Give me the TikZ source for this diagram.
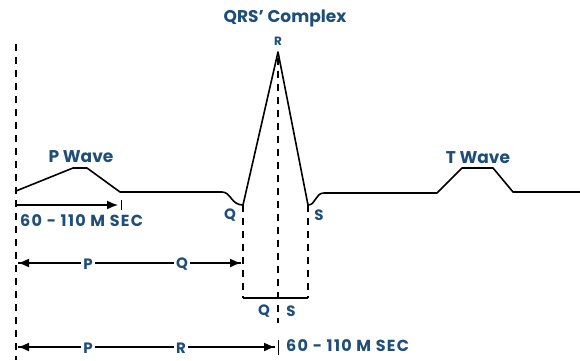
\documentclass[tikz,border=0pt]{standalone}
\usepackage{fontspec}
\setmainfont{Poppins}
\usetikzlibrary{arrows.meta}
\definecolor{lbl}{HTML}{1F4E79}
\tikzset{
  lab/.style={text=lbl,font=\fontsize{15}{17}\selectfont\bfseries,inner sep=1pt},
  dur/.style={text=lbl,font=\fontsize{16}{18}\selectfont\bfseries\addfontfeature{LetterSpace=8},inner sep=1pt},
  big/.style={text=lbl,font=\fontsize{17}{19}\selectfont\bfseries,inner sep=1pt},
  slab/.style={text=lbl,font=\fontsize{12}{13}\selectfont\bfseries,inner sep=1pt},
  wave/.style={line width=1.6pt,black,line join=round},
  guide/.style={line width=1.6pt,black,dash pattern=on 7pt off 6pt},
  dim/.style={line width=1.5pt,black},
  arr/.style={-{Latex[length=11pt,width=9pt]}},
  gap/.style={fill=white,text=lbl,font=\fontsize{15}{17}\selectfont\bfseries,inner sep=2pt}
}
\begin{document}
\begin{tikzpicture}[x=1pt,y=-1pt]
\useasboundingbox[fill=white] (0,0) rectangle (580,360);
% key points
\coordinate (start) at (16,191);
\coordinate (ptop1) at (73,168);
\coordinate (ptop2) at (87,168);
\coordinate (pend) at (120,192);
\coordinate (qstart) at (222,192);
\coordinate (q) at (243,205);
\coordinate (r) at (278,52);
\coordinate (s) at (308,205);
\coordinate (send) at (324,193);
\coordinate (tstart) at (437,193);
\coordinate (ttop1) at (462,168);
\coordinate (ttop2) at (493,168);
\coordinate (tend) at (513,192);
\coordinate (fin) at (580,192);
% ECG trace
\draw[wave] (start) -- (ptop1) -- (ptop2) -- (pend) -- (qstart)
  .. controls (231,192) and (231,205) .. (q) -- (r) -- (s)
  .. controls (316,205) and (315,193) .. (send) -- (tstart) -- (ttop1) -- (ttop2) -- (tend) -- (fin);
% guide lines
\coordinate (ltop) at (16,44);
\coordinate (lbot) at (16,360);
\draw[guide] (ltop) -- (lbot);
\coordinate (rtop) at (278,58);
\coordinate (rbot) at (278,323);
\draw[guide] (rtop) -- (rbot);
\coordinate (qb) at (243,298);
\coordinate (sb) at (308,298);
\draw[guide] (q) -- (qb);
\draw[guide] (s) -- (sb);
\draw[dim] (qb) -- (sb);
% P duration arrow
\coordinate (a1s) at (17,205);
\coordinate (a1e) at (118,205);
\coordinate (t1a) at (121,200);
\coordinate (t1b) at (121,210);
\draw[dim,arr] (a1s) -- (a1e);
\draw[line width=0.8pt] (t1a) -- (t1b);
\node[dur,anchor=west] (d1) at (19,221) {60 - 110 M SEC};
% PQ arrow
\coordinate (a2s) at (18,263);
\coordinate (a2e) at (241,263);
\draw[dim,arr] (a2e) -- (a2s);
\draw[dim,arr] (a2s) -- (a2e);
\node[gap] (p1) at (88,264) {P};
\node[gap] (q1) at (182,264) {Q};
% PR arrow
\coordinate (a3s) at (18,347);
\coordinate (a3e) at (275,347);
\coordinate (t3a) at (278,340);
\coordinate (t3b) at (278,355);
\draw[dim,arr] (a3e) -- (a3s);
\draw[dim,arr] (a3s) -- (a3e);
\draw[line width=0.8pt] (t3a) -- (t3b);
\node[gap] (p2) at (88,348) {P};
\node[gap] (r2) at (181,348) {R};
\node[dur,anchor=west] (d2) at (285,346) {60 - 110 M SEC};
% labels
\node[big] (qrs) at (285,18) {QRS' Complex};
\node[slab] (rl) at (278,41) {R};
\node[big] (pw) at (81,157) {P Wave};
\node[big] (tw) at (478,158) {T Wave};
\node[lab] (ql) at (230,215) {Q};
\node[lab] (sl) at (319,215) {S};
\node[lab] (ql2) at (264,311) {Q};
\node[lab] (sl2) at (291,311) {S};
\end{tikzpicture}
\end{document}
